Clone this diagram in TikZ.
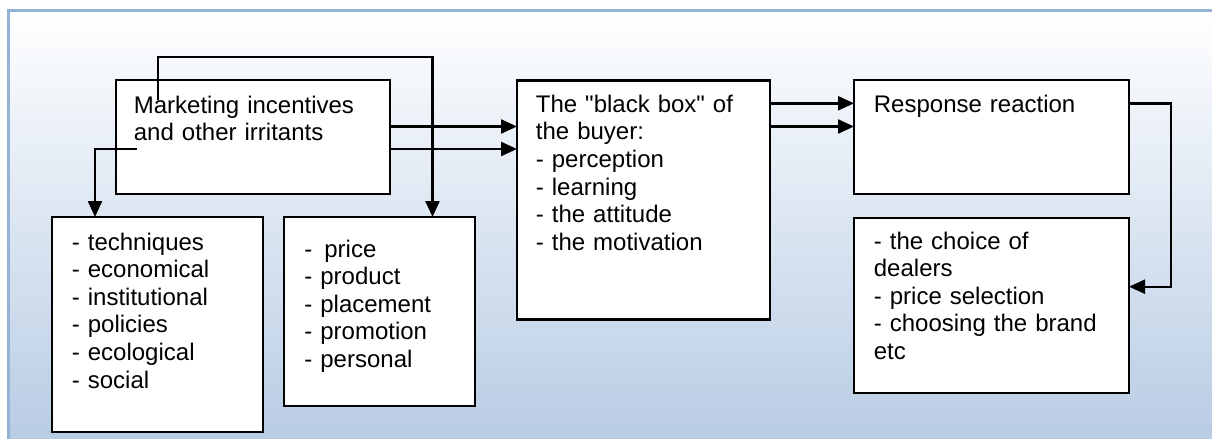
\documentclass[tikz,border=0pt]{standalone}
\usepackage{fontspec}
\setmainfont{Liberation Sans}
\usetikzlibrary{arrows.meta}
\definecolor{bgblue}{RGB}{184,204,228}
\definecolor{framecol}{RGB}{149,179,215}
\begin{document}
\begin{tikzpicture}[x=0.5pt,y=-0.5pt,
  box/.style={draw=black, line width=1.2pt, fill=white, rectangle, inner sep=0pt, outer sep=0pt, anchor=north west},
  txt/.style={anchor=base west, inner sep=0pt, align=left, text width=#1, font=\fontsize{12}{13.8}\selectfont},
  txt/.default=130pt,
  arr/.style={line width=1.2pt, -{Triangle[length=8pt,width=7pt]}}]
\useasboundingbox (0,0) rectangle (1212,439);
\shade[top color=white, bottom color=bgblue] (8,10) rectangle (1212,439);
\draw[framecol, line width=1.5pt] (8,439) -- (8,10) -- (1212,10);

% boxes
\node[box, minimum width=137pt, minimum height=57pt] (mk) at (116,80) {};
\node[box, minimum width=105.5pt, minimum height=107.5pt] (te) at (52,217) {};
\node[box, minimum width=95.5pt, minimum height=94.5pt] (pr) at (284,217) {};
\node[box, minimum width=126.5pt, minimum height=119.5pt] (bb) at (517,80.5) {};
\node[box, minimum width=137.5pt, minimum height=57pt] (rr) at (854,80) {};
\node[box, minimum width=137.5pt, minimum height=87.5pt] (ch) at (854,218) {};

% texts
\node[txt] (mkt) at (133.5,113) {Marketing incentives\\and other irritants};
\node[txt] (tet) at (71.5,250) {- techniques\\- economical\\- institutional\\- policies\\- ecological\\- social};
\node[txt] (prt) at (304,257) {-\hspace{2pt} price\\- product\\- placement\\- promotion\\- personal};
\node[txt] (bbt) at (535.5,112.3) {The \textquotedbl black box\textquotedbl{} of\\the buyer:\\- perception\\- learning\\- the attitude\\- the motivation};
\node[txt] (rrt) at (873.5,112.7) {Response reaction};
\node[txt] (cht) at (873.5,249) {- the choice of\\dealers\\- price selection\\- choosing the brand\\etc};

% helper coordinates
\coordinate (y1) at (0,126.5);
\coordinate (y2) at (0,149);
\coordinate (y3) at (0,103.3);
\coordinate (s1) at (158,100);
\coordinate (t1) at (432.5,57);
\coordinate (s2) at (136.7,148.7);
\coordinate (t2) at (95,148.7);
\coordinate (t3) at (1171,103.3);
\coordinate (t4) at (1171,286.7);

% connectors
\draw[arr] (mk.east |- y1) -- (bb.west |- y1);
\draw[arr] (mk.east |- y2) -- (bb.west |- y2);
\draw[arr] (bb.east |- y3) -- (rr.west |- y3);
\draw[arr] (bb.east |- y1) -- (rr.west |- y1);
\draw[arr] (s1) |- (t1) -- (t1 |- pr.north);
\draw[arr] (s2) -- (t2) -- (t2 |- te.north);
\draw[arr] (rr.east |- t3) -- (t3) -- (t4) -- (t4 -| ch.east);
\end{tikzpicture}
\end{document}
